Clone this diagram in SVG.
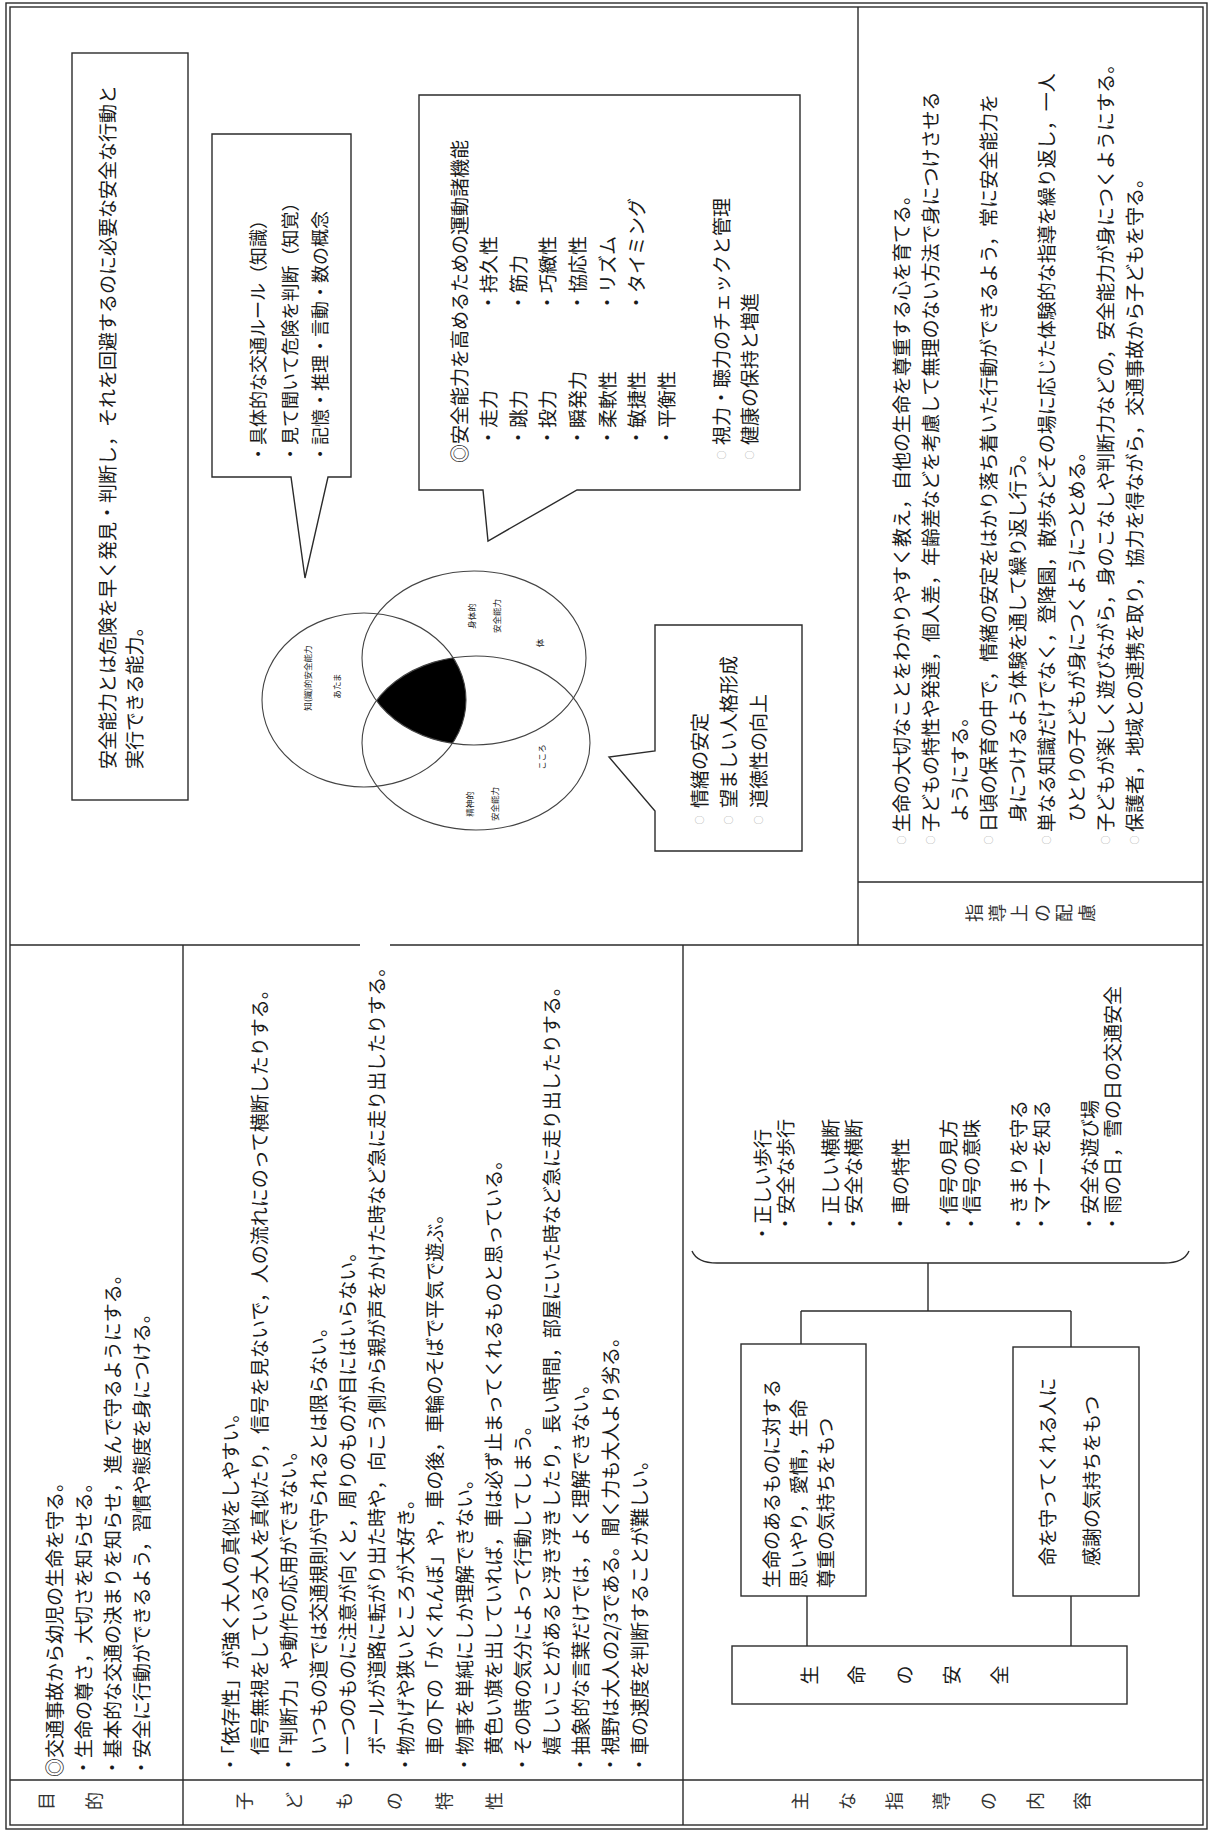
<svg xmlns="http://www.w3.org/2000/svg" width="1209" height="1832" viewBox="0 0 1209 1832">
<style>
.t{font-family:"Noto Sans CJK JP","Noto Sans CJK SC",sans-serif;font-size:19px;fill:#1a1a1a}
.s18{font-size:18px}
.sm{font-size:8.5px}
.lb{font-size:18px;text-anchor:middle;fill:#333}
.mk{font-size:9px;fill:#999;text-anchor:middle}
.ln{stroke:#2b2b2b;stroke-width:1.4;fill:none}
.bx{stroke:#2b2b2b;stroke-width:1.4;fill:#fff}
.vc{stroke:#444;stroke-width:1.1;fill:none}
</style>
<defs>
<clipPath id="cA"><ellipse cx="1132" cy="364" rx="87" ry="102"/></clipPath>
<clipPath id="cB"><ellipse cx="1174" cy="474" rx="87" ry="112"/></clipPath>
</defs>
<rect width="1209" height="1832" fill="#fff"/>
<g transform="matrix(0,-1,1,0,0,1832)">
<g id="frame">
<rect class="ln" x="3" y="6" width="1826" height="1201" stroke-width="1.8"/>
<rect class="ln" x="7" y="10" width="1818" height="1193"/>
<path class="ln" d="M887,10 V360 M887,390 V1203 M52,10 V1203 M7,183 H887 M7,683 H887 M887,858 H1825 M950,858 V1203"/>
</g>
<g id="labels" class="t lb">
<text x="31" y="53">目</text><text x="31" y="101">的</text>
<text x="31" y="251">子</text><text x="31" y="301">ど</text><text x="31" y="351">も</text><text x="31" y="401">の</text><text x="31" y="451">特</text><text x="31" y="501">性</text>
<text x="31" y="807">主</text><text x="31" y="854">な</text><text x="31" y="901">指</text><text x="31" y="948">導</text><text x="31" y="995">の</text><text x="31" y="1042">内</text><text x="31" y="1089">容</text>
<text x="919" y="981">指</text><text x="919" y="1004">導</text><text x="919" y="1026">上</text><text x="919" y="1049">の</text><text x="919" y="1071">配</text><text x="919" y="1094">慮</text>
</g>
<g id="purpose" class="t">
<text x="55" y="62">◎交通事故から幼児の生命を守る。</text>
<text x="55" y="91">・生命の尊さ，大切さを知らせる。</text>
<text x="55" y="120">・基本的な交通の決まりを知らせ，進んで守るようにする。</text>
<text x="55" y="149">・安全に行動ができるよう，習慣や態度を身につける。</text>
</g>
<g id="traits" class="t">
<text x="58" y="238">・「依存性」が強く大人の真似をしやすい。</text>
<text x="58" y="267.2">　信号無視をしている大人を真似たり，信号を見ないで，人の流れにのって横断したりする。</text>
<text x="58" y="296.4">・「判断力」や動作の応用ができない。</text>
<text x="58" y="325.6">　いつもの道では交通規則が守られるとは限らない。</text>
<text x="58" y="354.8">・一つのものに注意が向くと，周りのものが目にはいらない。</text>
<text x="58" y="384">　ボールが道路に転がり出た時や，向こう側から親が声をかけた時など急に走り出したりする。</text>
<text x="58" y="413.2">・物かげや狭いところが大好き。</text>
<text x="58" y="442.4">　車の下の「かくれんぼ」や，車の後，車輪のそばで平気で遊ぶ。</text>
<text x="58" y="471.6">・物事を単純にしか理解できない。</text>
<text x="58" y="500.8">　黄色い旗を出していれば，車は必ず止まってくれるものと思っている。</text>
<text x="58" y="530">・その時の気分によって行動してしまう。</text>
<text x="58" y="559.2">　嬉しいことがあると浮き浮きしたり，長い時間，部屋にいた時など急に走り出したりする。</text>
<text x="58" y="588.4">・抽象的な言葉だけでは，よく理解できない。</text>
<text x="58" y="617.6">・視野は大人の2/3である。聞く力も大人より劣る。</text>
<text x="58" y="646.8">・車の速度を判断することが難しい。</text>
</g>
<g id="connectors">
<path class="ln" d="M186,807 H236 M186,1071 H236 M488,801 H521 M521,801 V1071 M485,1071 H521 M521,928 H569"/>
<path class="ln" d="M581,692 Q569,697 569,717 L569,1164 Q569,1184 581,1189"/>
</g>
<g id="node-safety">
<rect class="bx" x="128" y="732" width="58" height="395"/>
<g class="t" text-anchor="middle"><text x="157" y="817">生</text><text x="157" y="864">命</text><text x="157" y="912">の</text><text x="157" y="959">安</text><text x="157" y="1007">全</text></g>
</g>
<g id="node-respect">
<rect class="bx" x="236" y="741" width="252" height="125"/>
<g class="t"><text x="244" y="779">生命のあるものに対する</text><text x="244" y="806">思いやり，愛情，生命</text><text x="244" y="833">尊重の気持ちをもつ</text></g>
</g>
<g id="node-thanks">
<rect class="bx" x="236" y="1013" width="249" height="126"/>
<g class="t"><text x="266" y="1055">命を守ってくれる人に</text><text x="266" y="1099">感謝の気持ちをもつ</text></g>
</g>
<g id="node-items" class="t">
<text x="589" y="770">・正しい歩行</text><text x="599" y="793">・安全な歩行</text>
<text x="599" y="838">・正しい横断</text><text x="599" y="861">・安全な横断</text>
<text x="599" y="908">・車の特性</text>
<text x="599" y="956">・信号の見方</text><text x="599" y="979">・信号の意味</text>
<text x="599" y="1026">・きまりを守る</text><text x="599" y="1049">・マナーを知る</text>
<text x="599" y="1097">・安全な遊び場</text><text x="599" y="1120">・雨の日，雪の日の交通安全</text>
</g>
<g id="guidance">
<g class="t mk"><text x="992" y="905">○</text><text x="992" y="934">○</text><text x="992" y="992">○</text><text x="992" y="1050">○</text><text x="992" y="1109">○</text><text x="992" y="1138">○</text></g>
<g class="t">
<text x="1000" y="909">生命の大切なことをわかりやすく教え，自他の生命を尊重する心を育てる。</text>
<text x="1000" y="938">子どもの特性や発達，個人差，年齢差などを考慮して無理のない方法で身につけさせる</text>
<text x="1010" y="967">ようにする。</text>
<text x="1000" y="996">日頃の保育の中で，情緒の安定をはかり落ち着いた行動ができるよう，常に安全能力を</text>
<text x="1010" y="1025">身につけるよう体験を通して繰り返し行う。</text>
<text x="1000" y="1054">単なる知識だけでなく，登降園，散歩などその場に応じた体験的な指導を繰り返し，一人</text>
<text x="1010" y="1084">ひとりの子どもが身につくようにつとめる。</text>
<text x="1000" y="1113">子どもが楽しく遊びながら，身のこなしや判断力などの，安全能力が身につくようにする。</text>
<text x="1000" y="1142">保護者，地域との連携を取り，協力を得ながら，交通事故から子どもを守る。</text>
</g>
</g>
<g id="node-definition">
<rect class="bx" x="1032" y="72" width="747" height="116"/>
<g class="t"><text x="1063" y="115">安全能力とは危険を早く発見・判断し，それを回避するのに必要な安全な行動と</text><text x="1063" y="142">実行できる能力。</text></g>
</g>
<g id="node-knowledge">
<path class="bx" d="M1355,212 L1698,212 L1698,351 L1355,351 L1355,328 L1254,305 L1355,291 Z"/>
<g class="t s18"><text x="1369" y="265">・具体的な交通ルール（知識）</text><text x="1369" y="297">・見て聞いて危険を判断（知覚）</text><text x="1369" y="327">・記憶・推理・言動・数の概念</text></g>
</g>
<g id="node-physical">
<path class="bx" d="M1342,419 L1737,419 L1737,800 L1342,800 L1342,577 L1291,488 L1342,483 Z"/>
<g class="t">
<text x="1369" y="467">◎安全能力を高めるための運動諸機能</text>
<text x="1385" y="496">・走力</text><text x="1385" y="526">・跳力</text><text x="1385" y="555">・投力</text><text x="1385" y="585">・瞬発力</text><text x="1385" y="615">・柔軟性</text><text x="1385" y="644">・敏捷性</text><text x="1385" y="674">・平衡性</text>
<text x="1520" y="496">・持久性</text><text x="1520" y="526">・筋力</text><text x="1520" y="555">・巧緻性</text><text x="1520" y="585">・協応性</text><text x="1520" y="615">・リズム</text><text x="1520" y="644">・タイミング</text>
<text x="1387" y="729">視力・聴力のチェックと管理</text><text x="1387" y="757">健康の保持と増進</text>
</g>
<g class="t mk"><text x="1377" y="725">○</text><text x="1377" y="753">○</text></g>
</g>
<g id="node-emotion">
<path class="bx" d="M981,655 L1021,655 L1075,609 L1081,655 L1207,655 L1207,802 L981,802 Z"/>
<g class="t"><text x="1024" y="707">情緒の安定</text><text x="1024" y="736">望ましい人格形成</text><text x="1024" y="766">道徳性の向上</text></g>
<g class="t mk"><text x="1012" y="703">○</text><text x="1012" y="732">○</text><text x="1012" y="762">○</text></g>
</g>
<g id="venn">
<g clip-path="url(#cA)"><g clip-path="url(#cB)"><ellipse cx="1089" cy="476" rx="87" ry="114" fill="#000"/></g></g>
<ellipse class="vc" cx="1132" cy="364" rx="87" ry="102"/>
<ellipse class="vc" cx="1174" cy="474" rx="87" ry="112"/>
<ellipse class="vc" cx="1089" cy="476" rx="87" ry="114"/>
<g class="t sm" text-anchor="middle">
<text x="1154" y="311">知(識)的安全能力</text><text x="1146" y="340">あたま</text>
<text x="1216" y="475">身体的</text><text x="1216" y="500">安全能力</text><text x="1189" y="543">体</text>
<text x="1028" y="473">精神的</text><text x="1028" y="498">安全能力</text><text x="1075" y="545">こころ</text>
</g>
</g>
</g>
</svg>
